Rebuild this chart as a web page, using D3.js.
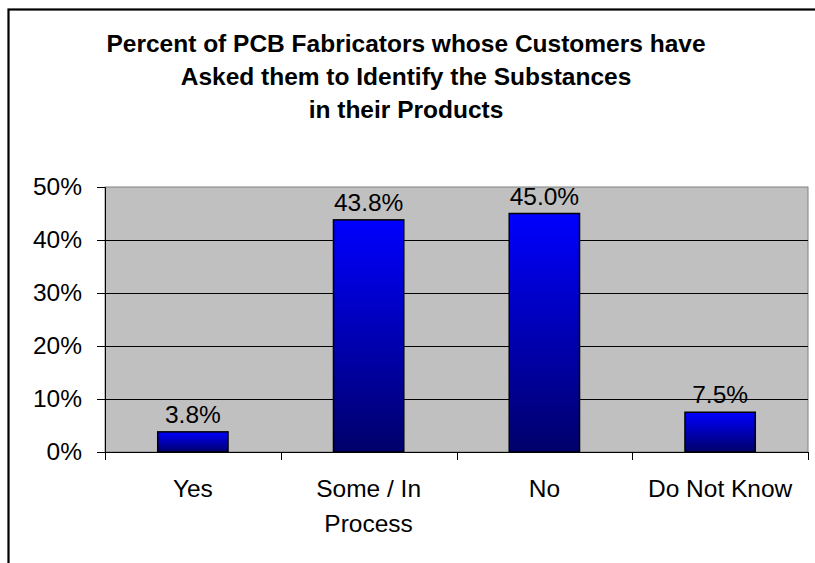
<!DOCTYPE html>
<html>
<head>
<meta charset="utf-8">
<script src="https://cdn.jsdelivr.net/npm/d3@7"></script>
<style>
body { margin: 0; background: #fff; }
svg { display: block; font-family: "Liberation Sans", Arial, sans-serif; }
</style>
</head>
<body>
<svg width="815" height="563"></svg>
<script>
var categories = [["Yes"], ["Some / In", "Process"], ["No"], ["Do Not Know"]];
var values = [3.8, 43.8, 45.0, 7.5];
var valueLabels = ["3.8%", "43.8%", "45.0%", "7.5%"];
var yTicks = [0, 10, 20, 30, 40, 50];
var titleLines = ["Percent of PCB Fabricators whose Customers have",
    "Asked them to Identify the Substances", "in their Products"];

var svg = d3.select("svg");

var plotLeft = 105, plotRight = 808, plotTop = 187, plotBottom = 452;

// outer frame
svg.append("rect")
    .attr("x", 8.5).attr("y", 9.5)
    .attr("width", 900).attr("height", 700)
    .attr("fill", "none").attr("stroke", "#000").attr("stroke-width", 2.2);

var grad = svg.append("defs").append("linearGradient")
    .attr("id", "barGrad")
    .attr("x1", 0).attr("y1", 0).attr("x2", 0).attr("y2", 1);
grad.append("stop").attr("offset", "0%").attr("stop-color", "#0000ff");
grad.append("stop").attr("offset", "100%").attr("stop-color", "#00006a");

svg.append("g").selectAll("text")
    .data(titleLines)
    .enter().append("text")
    .attr("x", 406)
    .attr("y", function (d, i) { return 52 + i * 33; })
    .attr("text-anchor", "middle")
    .style("font-size", "24.5px")
    .style("font-weight", "bold")
    .text(function (d) { return d; });

var x = d3.scaleBand()
    .domain(d3.range(categories.length))
    .range([plotLeft, plotRight])
    .padding(0);

var y = d3.scaleLinear()
    .domain([0, 50])
    .range([plotBottom, plotTop]);

svg.append("rect")
    .attr("x", plotLeft).attr("y", plotTop)
    .attr("width", plotRight - plotLeft).attr("height", plotBottom - plotTop)
    .attr("fill", "#c0c0c0")
    .attr("stroke", "#808080");

svg.append("g").selectAll("line")
    .data(yTicks.slice(1, -1))
    .enter().append("line")
    .attr("x1", plotLeft).attr("x2", plotRight)
    .attr("y1", function (d) { return Math.round(y(d)) + 0.5; })
    .attr("y2", function (d) { return Math.round(y(d)) + 0.5; })
    .attr("stroke", "#000");

var barW = x.bandwidth() * 0.4;

svg.append("g").selectAll("rect")
    .data(values)
    .enter().append("rect")
    .attr("x", function (d, i) { return x(i) + (x.bandwidth() - barW) / 2; })
    .attr("y", function (d) { return y(d); })
    .attr("width", barW)
    .attr("height", function (d) { return plotBottom - y(d); })
    .attr("fill", "url(#barGrad)")
    .attr("stroke", "#000")
    .attr("stroke-width", 1.5);

svg.append("g").selectAll("text")
    .data(values)
    .enter().append("text")
    .attr("x", function (d, i) { return x(i) + x.bandwidth() / 2; })
    .attr("y", function (d) { return y(d) - 9; })
    .attr("text-anchor", "middle")
    .style("font-size", "24.5px")
    .text(function (d, i) { return valueLabels[i]; });

// y axis
var yAxis = svg.append("g")
    .attr("transform", "translate(" + plotLeft + ",0)")
    .call(d3.axisLeft(y).tickValues(yTicks).tickSize(8).tickPadding(15)
        .tickFormat(function (d) { return d + "%"; }));
yAxis.select(".domain").attr("stroke", "#000");
yAxis.selectAll("text").style("font-size", "24.5px").attr("fill", "#000")
    .style("font-family", "'Liberation Sans', Arial, sans-serif");

// x axis
var xAxis = svg.append("g")
    .attr("transform", "translate(0," + plotBottom + ")");
xAxis.append("line")
    .attr("x1", plotLeft).attr("x2", plotRight)
    .attr("y1", 0.5).attr("y2", 0.5)
    .attr("stroke", "#000");
xAxis.selectAll(".tick")
    .data(d3.range(categories.length + 1))
    .enter().append("line")
    .attr("class", "tick")
    .attr("x1", function (d) { return Math.round(plotLeft + d * x.step()) + 0.5; })
    .attr("x2", function (d) { return Math.round(plotLeft + d * x.step()) + 0.5; })
    .attr("y1", 0).attr("y2", 8)
    .attr("stroke", "#000");

var catText = xAxis.selectAll("text.cat")
    .data(categories)
    .enter().append("text")
    .attr("class", "cat")
    .attr("x", function (d, i) { return x(i) + x.bandwidth() / 2; })
    .attr("y", 45)
    .attr("text-anchor", "middle")
    .style("font-size", "24.5px");
catText.selectAll("tspan")
    .data(function (d) { return d; })
    .enter().append("tspan")
    .attr("x", function () { return d3.select(this.parentNode).attr("x"); })
    .attr("dy", function (d, i) { return i === 0 ? 0 : 35; })
    .text(function (d) { return d; });
</script>
</body>
</html>
